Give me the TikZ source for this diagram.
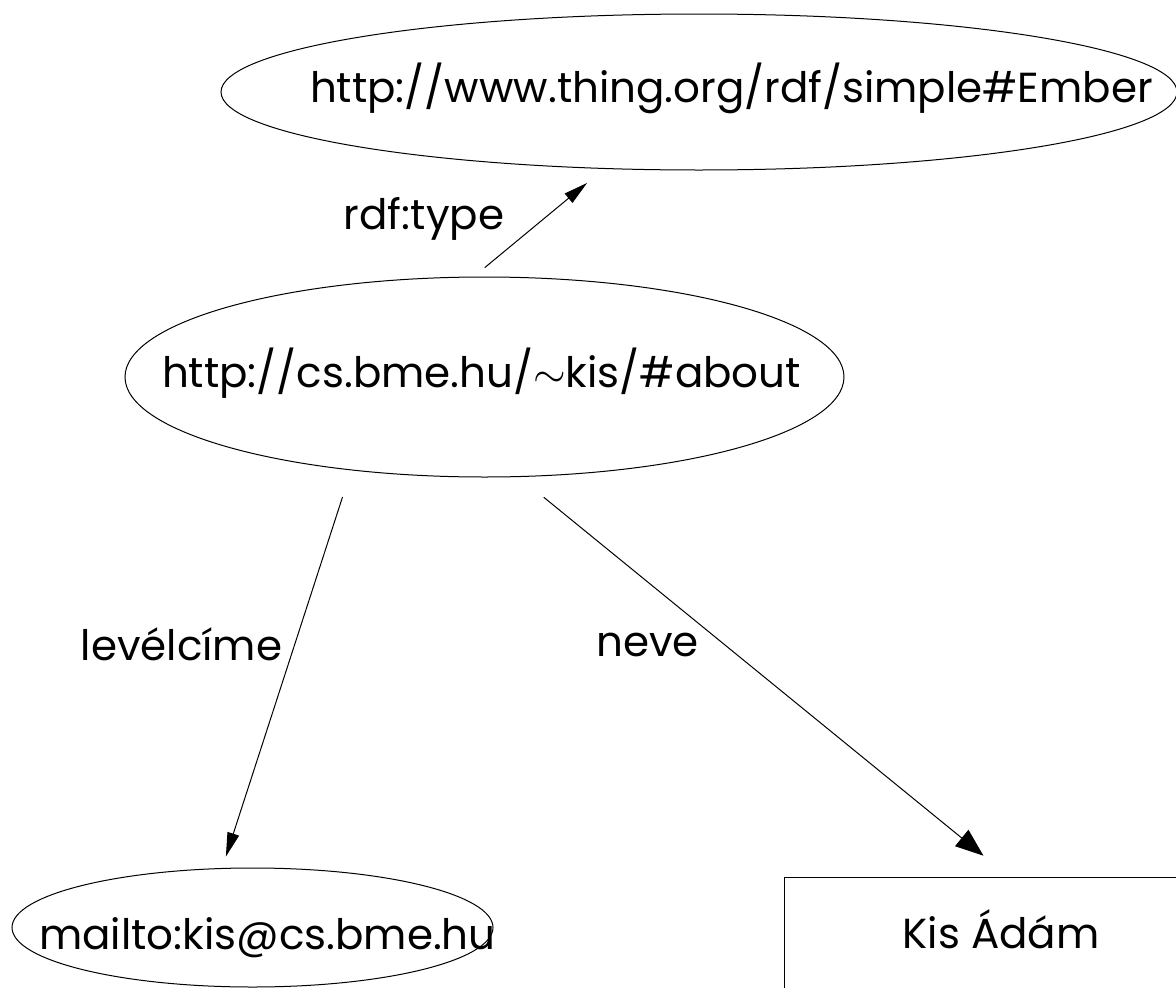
\RequirePackage{fix-cm}
\documentclass[tikz,border=0pt]{standalone}
\usepackage{fontspec}
\setmainfont{Poppins}
\usetikzlibrary{arrows.meta,shapes.geometric}

\begin{document}
\begin{tikzpicture}[x=1pt,y=-1pt,line width=1pt,
    res/.style={draw,ellipse,inner sep=0pt},
    lit/.style={draw,rectangle,inner sep=0pt},
    txt/.style={anchor=base,inner sep=0pt,font=\fontsize{42}{50}\selectfont},
    arr/.style={-{Triangle[length=24pt,width=12pt]}},
    bigarr/.style={-{Triangle[length=28pt,width=21pt]}}]
  \useasboundingbox (0,0) rectangle (1176,988);
  \node[res,minimum width=956pt,minimum height=156pt] (ember) at (699,92) {};
  \node[txt] (emberT) at (731.5,102) {http://www.thing.org/rdf/simple\#Ember};
  \node[res,minimum width=719pt,minimum height=200pt] (about) at (484.5,377) {};
  \node[txt] (aboutT) at (481.5,387) {http://cs.bme.hu/$\sim$kis/\#about};
  \node[res,minimum width=481pt,minimum height=119pt] (mailto) at (252.5,927.5) {};
  \node[txt] (mailtoT) at (267.5,949) {mailto:kis@cs.bme.hu};
  \node[lit,minimum width=434pt,minimum height=112pt] (kis) at (1001,933) {};
  \node[txt] (kisT) at (1001,948) {Kis Ádám};
  \draw[arr,shorten <=14pt,shorten >=22pt] (about.96) -- (ember.219);
  \draw[arr,shorten <=28pt,shorten >=12pt] (about.215) -- (mailto.117);
  \draw[bigarr,shorten <=32pt,shorten >=33pt] (about.289) -- ([xshift=8pt]kis.north);
  \node[txt] (typeL) at (424,229) {rdf:type};
  \node[txt] (levelL) at (181.5,660) {levélcíme};
  \node[txt] (neveL) at (647.5,656) {neve};
\end{tikzpicture}
\end{document}
